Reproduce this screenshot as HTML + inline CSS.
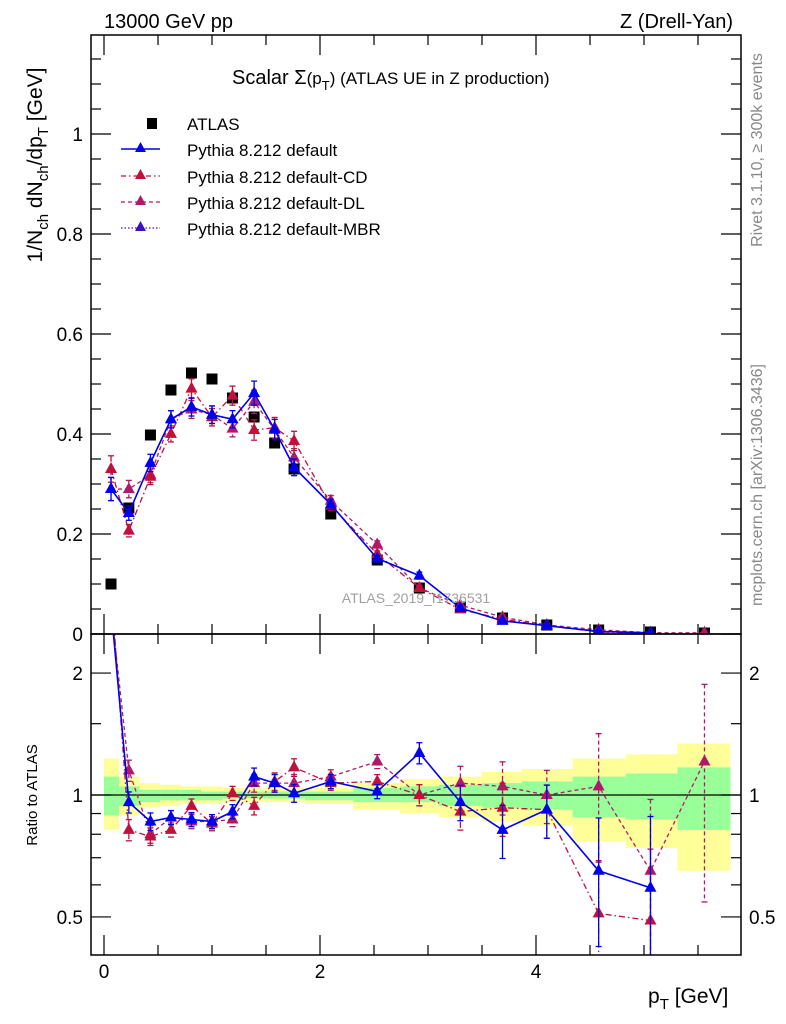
<!DOCTYPE html>
<html><head><meta charset="utf-8"><style>
html,body{margin:0;padding:0;background:#fff;}
svg{display:block;font-family:"Liberation Sans",sans-serif;}
</style></head><body>
<svg id="chart" width="786" height="1024" viewBox="0 0 786 1024" xmlns="http://www.w3.org/2000/svg"></svg>
<script>
const pT = [0.065,0.23,0.43,0.62,0.81,1.0,1.19,1.39,1.58,1.76,2.1,2.53,2.92,3.3,3.69,4.1,4.58,5.06,5.56];
const binEdges = [0,0.14,0.33,0.52,0.71,0.9,1.1,1.29,1.48,1.67,1.86,2.31,2.74,3.1,3.5,3.87,4.34,4.83,5.31,5.8];
const atlas = [0.1,0.252,0.398,0.488,0.522,0.51,0.472,0.434,0.382,0.33,0.24,0.148,0.092,0.054,0.032,0.018,0.008,0.004,0.002];
const ratioDefault = [2.9,0.96,0.86,0.88,0.87,0.86,0.91,1.11,1.07,1.01,1.08,1.02,1.27,0.96,0.82,0.92,0.65,0.59,null];
const ratioCD = [3.3,0.82,0.79,0.82,0.94,0.85,1.01,0.94,1.08,1.17,1.07,1.08,1.0,0.91,0.93,0.92,0.51,0.49,null];
const ratioDL = [2.9,1.15,0.8,0.88,0.86,0.86,0.87,1.07,1.07,1.07,1.11,1.21,1.0,1.07,1.05,1.0,1.05,0.65,1.21];
const mcErr = [0.08,0.06,0.05,0.04,0.04,0.04,0.04,0.05,0.05,0.05,0.04,0.04,0.06,0.1,0.15,0.15,0.35,0.5,0.55];
const yellowHi = [1.23,1.11,1.07,1.06,1.05,1.05,1.04,1.04,1.04,1.04,1.04,1.07,1.095,1.11,1.14,1.16,1.23,1.26,1.34];
const yellowLo = [0.82,0.89,0.93,0.94,0.95,0.95,0.96,0.96,0.96,0.96,0.95,0.92,0.9,0.88,0.86,0.84,0.77,0.74,0.65];
const greenHi = [1.11,1.05,1.03,1.03,1.03,1.02,1.02,1.02,1.02,1.02,1.02,1.04,1.05,1.06,1.07,1.08,1.11,1.13,1.17];
const greenLo = [0.89,0.94,0.96,0.97,0.97,0.97,0.98,0.98,0.98,0.98,0.97,0.96,0.96,0.94,0.93,0.92,0.88,0.87,0.82];
const mainTicks = [0,0.2,0.4,0.6,0.8,1];
const mainTickLabels = ["0","0.2","0.4","0.6","0.8","1"];
const xTicks = [0,2,4];
const ratioTicks = [0.5,1,2];

const NS="http://www.w3.org/2000/svg";
const svg=document.getElementById('chart');
const L=91,R=741,T=35,M=634,B=955;
const X=v=>104+v*108;
const Y=v=>634-v*500;
const RY=r=>795-405*Math.log10(r);
function el(tag,attrs,parent){const e=document.createElementNS(NS,tag);for(const k in attrs)e.setAttribute(k,attrs[k]);(parent||svg).appendChild(e);return e;}
function txt(s,attrs,parent){const e=el('text',attrs,parent);e.textContent=s;return e;}

const defs=el('defs',{});
const cp1=el('clipPath',{id:'cm'},defs);el('rect',{x:L,y:T,width:R-L,height:M-T},cp1);
const cp2=el('clipPath',{id:'cr'},defs);el('rect',{x:L,y:M,width:R-L,height:B-M},cp2);

const bands=el('g',{'clip-path':'url(#cr)'});


for(let i=0;i<atlas.length;i++){
  const x0=X(binEdges[i]),x1=X(binEdges[i+1]);
  const y=el('rect',{x:x0,y:RY(yellowHi[i]),width:x1-x0,height:RY(yellowLo[i])-RY(yellowHi[i]),fill:'#ffff99'},bands);
  
  
}
for(let i=0;i<atlas.length;i++){
  const x0=X(binEdges[i]),x1=X(binEdges[i+1]);
  const g=el('rect',{x:x0,y:RY(greenHi[i]),width:x1-x0,height:RY(greenLo[i])-RY(greenHi[i]),fill:'#99ff99'},bands);
  
  
}
el('line',{x1:L,x2:R,y1:RY(1),y2:RY(1),stroke:'#000','stroke-width':1.3});

const series=[
  {name:'pythia-default',r:ratioDefault,color:'#0000ee',dash:'',w:1.6},
  {name:'pythia-default-cd',r:ratioCD,color:'#c0103c',dash:'6,3,1.5,3',w:1.3},
  {name:'pythia-default-dl',r:ratioDL,color:'#b0186a',dash:'4,3',w:1.3},
];
function tri(g,x,y,c){el('path',{d:`M${x},${y-7} L${x+6},${y+4} L${x-6},${y+4} Z`,fill:c},g);}
function drawSeries(s,panel){
  const clip=panel==='main'?'url(#cm)':'url(#cr)';
  const g=el('g',{'clip-path':clip});
  
  
  const pts=[];
  for(let i=0;i<pT.length;i++){
    const r=s.r[i]; if(r==null) continue;
    const v=atlas[i]*r;
    let y,y0,y1;
    if(panel==='main'){y=Y(v);y0=Y(v+v*mcErr[i]);y1=Y(v-v*mcErr[i]);}
    else{y=RY(r);y0=RY(r*(1+mcErr[i]));y1=RY(Math.max(r*(1-mcErr[i]),0.05));}
    pts.push([X(pT[i]),y]);
    el('line',{x1:X(pT[i]),x2:X(pT[i]),y1:y0,y2:y1,stroke:s.color,'stroke-width':1.3,'stroke-dasharray':s.dash},g);
    el('line',{x1:X(pT[i])-3,x2:X(pT[i])+3,y1:y0,y2:y0,stroke:s.color,'stroke-width':1.3},g);
    el('line',{x1:X(pT[i])-3,x2:X(pT[i])+3,y1:y1,y2:y1,stroke:s.color,'stroke-width':1.3},g);
  }
  el('polyline',{points:pts.map(p=>p.join(',')).join(' '),fill:'none',stroke:s.color,'stroke-width':s.w,'stroke-dasharray':s.dash},g);
  pts.forEach(p=>tri(g,p[0],p[1],s.color));
}
const ga=el('g',{'clip-path':'url(#cm)'});


for(let i=0;i<pT.length;i++){
  const m=el('rect',{x:X(pT[i])-5.5,y:Y(atlas[i])-5.5,width:11,height:11,fill:'#000'},ga);
  
  
}
series.slice().reverse().forEach(s=>{drawSeries(s,'main');drawSeries(s,'ratio');});

const fr=el('g',{fill:'none',stroke:'#000','stroke-width':1.5});


el('rect',{x:L,y:T,width:R-L,height:M-T},fr);
el('rect',{x:L,y:M,width:R-L,height:B-M},fr);

const ax=el('g',{stroke:'#000','stroke-width':1.2});


for(let v=0;v<=1.2;v+=0.05){const y=Y(v);if(y<T)break;const maj=Math.abs(v/0.2-Math.round(v/0.2))<1e-6;const len=maj?20:10;
  el('line',{x1:L,x2:L+len,y1:y,y2:y},ax);el('line',{x1:R,x2:R-len,y1:y,y2:y},ax);}
for(let v=-0.0;v<=5.8;v+=0.5){const x=X(v);const maj=Math.abs(v-Math.round(v/2)*2)<1e-6;const len=maj?20:10;
  el('line',{x1:x,x2:x,y1:B,y2:B-len},ax);el('line',{x1:x,x2:x,y1:M,y2:M+len},ax);
  el('line',{x1:x,x2:x,y1:T,y2:T+len},ax);el('line',{x1:x,x2:x,y1:M,y2:M-len},ax);}
[0.5,0.6,0.7,0.8,0.9,1,1.5,2].forEach(r=>{const y=RY(r);const len=ratioTicks.includes(r)?20:10;
  el('line',{x1:L,x2:L+len,y1:y,y2:y},ax);el('line',{x1:R,x2:R-len,y1:y,y2:y},ax);});

mainTicks.forEach((v,i)=>{const t=txt(mainTickLabels[i],{x:L-8,y:Y(v)+7,'text-anchor':'end','font-size':19});
  });
xTicks.forEach(v=>{const t=txt(String(v),{x:X(v),y:978,'text-anchor':'middle','font-size':19});
  });
ratioTicks.forEach(v=>{const a=txt(String(v),{x:L-8,y:RY(v)+7,'text-anchor':'end','font-size':19});
  
  const b=txt(String(v),{x:R+8,y:RY(v)+7,'text-anchor':'start','font-size':19});
  });
</script>
<script>
(function(){
const svg=document.getElementById('chart');
svg.insertAdjacentHTML('beforeend',`
<text x="104" y="28" font-size="20">13000 GeV pp</text>
<text x="733" y="28" font-size="20" text-anchor="end">Z (Drell-Yan)</text>
<text x="232" y="84" font-size="20">Scalar Σ<tspan font-size="17">(p</tspan><tspan font-size="13" dy="6">T</tspan><tspan font-size="17" dy="-6">)</tspan><tspan font-size="17"> (ATLAS UE in Z production)</tspan></text>
<g font-size="17">
 <rect x="147" y="118" width="10" height="11" fill="#000"/>
 <text x="187" y="130">ATLAS</text>
 <line x1="121" x2="160" y1="149" y2="149" stroke="#0000ee" stroke-width="1.5"/><path d="M140.5,142 L146,152 L135,152Z" fill="#0000ee"/>
 <text x="187" y="156">Pythia 8.212 default</text>
 <line x1="121" x2="160" y1="176" y2="176" stroke="#c0103c" stroke-width="1.2" stroke-dasharray="5,3,1.5,3"/><path d="M140.5,169 L146,179 L135,179Z" fill="#c0103c"/>
 <text x="187" y="183">Pythia 8.212 default-CD</text>
 <line x1="121" x2="160" y1="202" y2="202" stroke="#b0186a" stroke-width="1.2" stroke-dasharray="4,3"/><path d="M140.5,195 L146,205 L135,205Z" fill="#b0186a"/>
 <text x="187" y="209">Pythia 8.212 default-DL</text>
 <line x1="121" x2="160" y1="228" y2="228" stroke="#3a10c0" stroke-width="1.2" stroke-dasharray="1.5,2"/><path d="M140.5,221 L146,231 L135,231Z" fill="#3a10c0"/>
 <text x="187" y="235">Pythia 8.212 default-MBR</text>
</g>
<text x="416" y="603" font-size="14" fill="#a0a0a0" text-anchor="middle">ATLAS_2019_I1736531</text>
<text transform="translate(762,150) rotate(-90)" font-size="16" fill="#888" text-anchor="middle">Rivet 3.1.10, ≥ 300k events</text>
<text transform="translate(762,485) rotate(-90)" font-size="16" fill="#888" text-anchor="middle">mcplots.cern.ch [arXiv:1306.3436]</text>
<text transform="translate(42,165) rotate(-90)" font-size="21" text-anchor="middle">1/N<tspan font-size="15" dy="6">ch</tspan><tspan dy="-6"> dN</tspan><tspan font-size="15" dy="6">ch</tspan><tspan dy="-6">/dp</tspan><tspan font-size="15" dy="6">T</tspan><tspan dy="-6"> [GeV]</tspan></text>
<text transform="translate(37,795) rotate(-90)" font-size="15" text-anchor="middle">Ratio to ATLAS</text>
<text x="648" y="1003" font-size="21">p<tspan font-size="15" dy="6">T</tspan><tspan dy="-6"> [GeV]</tspan></text>
`);
})();
</script>
</body></html>
